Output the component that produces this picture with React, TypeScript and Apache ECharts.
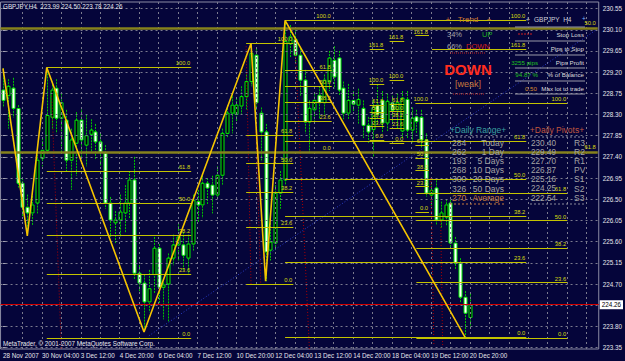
import React, { useEffect, useRef } from "react";
import * as echarts from "echarts";

// ---------- data ----------
const symbolName = "GBPJPY,H4";
const tickLabels = [
  "28 Nov 2007", "30 Nov 04:00", "3 Dec 12:00", "4 Dec 20:00", "6 Dec 04:00",
  "7 Dec 12:00", "10 Dec 20:00", "12 Dec 04:00", "13 Dec 12:00", "14 Dec 20:00",
  "18 Dec 04:00", "19 Dec 12:00", "20 Dec 20:00",
];
const labelStep = 8;

const opens = [
  228.82, 228.70, 228.86, 228.43, 226.84, 226.33, 226.21, 226.42, 227.37, 227.54,
  228.24, 228.86, 228.22, 228.18, 227.33, 227.69, 228.18, 227.65, 227.88, 227.93,
  227.72, 227.48, 226.42, 226.00, 226.06, 226.21, 226.42, 226.91, 224.93, 224.72,
  224.32, 224.90, 225.46, 224.63, 224.70, 225.25, 225.53, 225.53, 225.25, 225.55,
  226.45, 226.38, 226.84, 226.80, 226.59, 227.01, 227.90, 228.33, 228.30, 228.48,
  228.68, 229.00, 229.56, 228.33, 227.93, 225.42, 225.57, 226.63, 226.91, 229.80,
  229.90, 229.56, 229.03, 228.14, 228.40, 228.71, 228.55, 229.00, 229.45, 229.50,
  228.86, 228.33, 228.60, 228.50, 228.43, 228.07, 227.98, 228.50, 228.60, 228.12,
  228.55, 228.40, 227.95, 228.62, 227.97, 228.25, 228.24, 227.76, 226.59, 226.74,
  226.06, 226.12, 226.42, 225.57, 225.14, 224.42, 223.99,
];
const highs = [
  229.28, 229.05, 229.08, 228.50, 226.95, 226.60, 226.70, 227.45, 227.80, 229.30,
  229.00, 229.05, 228.75, 228.40, 228.00, 228.35, 228.45, 228.30, 228.20, 228.10,
  227.90, 227.65, 226.55, 226.25, 226.60, 226.80, 227.10, 227.40, 225.10, 224.90,
  225.00, 225.70, 225.55, 224.80, 225.35, 225.75, 226.00, 225.80, 225.75, 226.60,
  226.70, 227.00, 226.95, 227.00, 227.20, 228.00, 228.50, 228.75, 228.65, 228.90,
  229.15, 229.81, 229.70, 228.45, 228.10, 226.00, 226.80, 227.10, 230.30, 230.20,
  230.10, 229.70, 229.25, 228.60, 228.75, 228.90, 229.15, 229.65, 229.75, 229.65,
  229.00, 228.95, 228.80, 228.85, 228.60, 228.25, 228.60, 228.95, 228.80, 228.75,
  228.70, 228.75, 228.80, 228.80, 228.45, 228.40, 228.40, 227.90, 226.85, 226.90,
  226.45, 226.50, 226.55, 225.70, 225.25, 224.55, 224.50,
];
const lows = [
  228.45, 228.00, 228.24, 226.75, 226.10, 225.72, 225.95, 226.20, 227.20, 227.45,
  228.00, 227.90, 227.50, 227.10, 226.70, 227.00, 227.40, 227.20, 227.50, 227.35,
  227.20, 226.30, 225.70, 225.55, 225.70, 225.80, 226.10, 224.80, 224.50, 223.68,
  224.10, 224.50, 224.30, 223.95, 223.90, 225.10, 225.20, 225.00, 224.90, 225.40,
  226.00, 226.10, 226.40, 226.20, 226.50, 226.80, 227.80, 227.90, 228.10, 228.30,
  228.40, 228.90, 228.40, 227.30, 224.76, 225.20, 225.40, 226.30, 226.80, 229.50,
  229.40, 228.70, 227.90, 227.48, 228.10, 228.20, 228.30, 228.80, 228.85, 228.70,
  228.20, 228.20, 228.30, 228.10, 227.80, 227.70, 227.40, 228.10, 227.90, 227.95,
  228.10, 228.00, 227.80, 227.80, 227.70, 227.90, 227.60, 226.55, 226.30, 225.95,
  225.90, 225.95, 225.45, 225.00, 224.30, 223.57, 223.78,
];
const closes = [
  228.60, 228.90, 228.43, 226.84, 226.33, 226.21, 226.38, 227.33, 227.54, 228.28,
  228.82, 228.22, 228.55, 227.33, 227.76, 228.18, 227.76, 227.85, 227.97, 227.72,
  227.50, 226.42, 226.06, 226.06, 226.23, 226.42, 226.91, 224.93, 224.72, 224.32,
  224.60, 225.46, 224.63, 224.68, 225.25, 225.53, 225.70, 225.31, 225.55, 226.48,
  226.38, 226.84, 226.74, 226.59, 227.01, 227.90, 228.33, 228.50, 228.50, 228.68,
  229.00, 229.60, 228.55, 227.93, 225.38, 225.59, 226.63, 226.91, 229.85, 229.95,
  229.56, 229.03, 228.14, 228.43, 228.60, 228.55, 229.03, 229.50, 229.10, 228.82,
  228.33, 228.60, 228.52, 228.62, 228.07, 227.93, 228.45, 228.30, 228.12, 228.58,
  228.39, 228.55, 228.65, 227.97, 228.22, 228.15, 227.76, 226.63, 226.69, 226.06,
  226.21, 226.38, 225.57, 225.14, 224.42, 224.08, 224.26,
];

const zigzagBars = [0, 5, 9, 29, 51, 54, 58, 95];
const zigzagPrices = [229.28, 225.72, 229.30, 223.68, 229.81, 224.76, 230.30, 223.57];

const priceTicks = [
  223.35, 223.8, 224.25, 224.7, 225.15, 225.6, 226.05, 226.5, 226.95,
  227.4, 227.85, 228.3, 228.75, 229.2, 229.65, 230.1, 230.55,
];
const priceLabels = [
  223.35, 223.8, 224.7, 225.15, 225.6, 226.05, 226.5, 226.95,
  227.4, 227.85, 228.3, 228.75, 229.2, 229.65, 230.1, 230.55,
];
const bidPrice = 224.26;

const fibRatios = [0, 23.6, 38.2, 50, 61.8, 100];
const fibRatiosExt = [0, 23.6, 38.2, 50, 61.8, 100, 161.8];
// [start bar, end bar, price at 100, price at 0, extended]
const fibLegs: [number, number, number, number, boolean][] = [
  [9, 38.7, 229.3, 223.55, false],
  [50, 59.7, 229.81, 224.7, false],
  [58, 107.6, 230.3, 223.57, false],
  [58, 67.6, 230.3, 227.5, false],
  [75.4, 78.4, 228.95, 227.76, true],
  [79.5, 82.5, 229.03, 227.69, true],
  [84.8, 87.6, 228.54, 226.22, true],
  [85, 116.0, 228.54, 223.55, false],
];
// thick levels across the chart: [price, label]
const wideLevels: [number, string][] = [
  [230.14, "50.0"],
  [227.5, "61.8"],
];
const extraLevels: [number, number, number, string][] = [[88.2, 107.6, 229.69, "161.8"]];
// red dotted trend lines: [bar1, price1, bar2, price2]
const redLines: [number, number, number, number][] = [
  [10, 228.7, 12, 223.32],
  [50, 229.75, 51, 224.7],
  [52, 228.0, 53, 224.7],
  [60, 229.9, 63, 223.32],
  [88, 226.95, 88.6, 223.4],
  [90, 226.1, 90.4, 223.4],
];
const blueLines: [number, number, number, number][] = [[30, 223.6, 122, 230.1]];

const rangeValues = ["284", "262", "193", "268", "300", "326", "270"];
const rangeNames = ["Today", "1 Day", "5 Days", "10 Days", "20 Days", "50 Days", "Average"];
const pivotValues = ["230.40", "229.49", "227.70", "226.87", "225.16", "224.25", "222.54"];
const pivotNames = ["R3", "R2", "R1", "PV", "S1", "S2", "S3"];
const trendUp = "34%";
const trendDown = "66%";

// ---------- styles ----------
const BG = "#05053a";
const F = "'Liberation Sans', Arial, sans-serif";
const AXIS_TXT = "#e6e6ec";
const GRID_C = "#7a7a8e";
const FIB_C = "#c4c400";
const OLIVE = "#86821c";

export default function App() {
  const ref = useRef<HTMLDivElement>(null);

  useEffect(() => {
    document.body.style.margin = "0";
    document.body.style.background = BG;
    const chart = echarts.init(ref.current!, undefined, { renderer: "svg" });

    const candleData = opens.map((o, i) => [i, o, highs[i], lows[i], closes[i]]);
    const labelBars = tickLabels.map((_, k) => k * labelStep);
    const gridBars: number[] = [];
    for (let b = 4; b <= 120; b += 4) gridBars.push(b);

    const fibSegs: any[] = [];
    fibLegs.forEach(([b1, b2, p100, p0, ext]) => {
      (ext ? fibRatiosExt : fibRatios).forEach((r) => {
        const p = p0 + ((p100 - p0) * r) / 100;
        fibSegs.push([{ coord: [b1, p], name: r.toFixed(1) }, { coord: [b2, p] }]);
      });
    });
    extraLevels.forEach(([b1, b2, p, name]) =>
      fibSegs.push([{ coord: [b1, p], name }, { coord: [b2, p] }])
    );

    const dummy = (z: number, markLine: any) => ({
      type: "line",
      data: [[-0.5, 223.32]],
      symbol: "none",
      lineStyle: { opacity: 0 },
      silent: true,
      z,
      markLine: { silent: true, symbol: ["none", "none"], animation: false, ...markLine },
    });

    const txt = (x: number, y: number, text: string, fill: string, font: string, align = "left") => ({
      type: "text",
      x,
      y,
      z: 100,
      silent: true,
      style: { text, fill, font, textAlign: align, textVerticalAlign: "middle", align, verticalAlign: "middle" },
    });
    const ln = (x1: number, y1: number, x2: number, y2: number, stroke: string, dash?: number[]) => ({
      type: "line",
      z: 99,
      silent: true,
      shape: { x1, y1, x2, y2 },
      style: { stroke, lineWidth: 1, lineDash: dash },
    });

    const f62 = `6.2px ${F}`;
    const f75 = `7.5px ${F}`;
    const f85 = `8.5px ${F}`;
    const rowY = [143.3, 152.3, 161.3, 170.3, 179.3, 188.6, 198];
    const graphics: any[] = [
      txt(3, 6, `${symbolName}  ${opens[96].toFixed(2)} ${highs[96].toFixed(2)} ${lows[96].toFixed(2)} ${closes[96].toFixed(2)}`, AXIS_TXT, `6.3px ${F}`),
      txt(3, 343, "MetaTrader, © 2001-2007 MetaQuotes Software Corp.", AXIS_TXT, `6.3px ${F}`),
      // trend box
      txt(448, 19, "+", "#d07a30", f75, "center"),
      txt(468, 19, "Trend", "#d07a30", `8px ${F}`, "center"),
      txt(489, 19, "+", "#d07a30", f75, "center"),
      txt(447, 34, trendUp, "#a8a8a8", f75),
      txt(482, 34, "UP", "#20b020", f75),
      txt(447, 46, trendDown, "#a8a8a8", f75),
      txt(466, 46, "DOWN", "#d02020", f75),
      ln(450, 53, 486, 53, "#c02020", [1, 1]),
      txt(468, 69.5, "DOWN", "#ff2d1e", `bold 15px 'Liberation Sans Narrow', ${F}`, "center"),
      txt(468, 84, "[weak]", "#c87a3c", `9px ${F}`, "center"),
      ln(453, 94, 485, 94, "#c02020", [1, 1]),
      // symbol box
      txt(528, 19, "+", "#c8c8c8", f75, "center"),
      txt(534, 19, "GBPJPY  H4", "#d0d0d8", `6.5px ${F}`),
      txt(584, 18, "+", "#80b8ff", `6.5px ${F}`, "center"),
      ln(515, 27, 585, 27, "#9a9aa8"),
      ln(518, 34, 533, 34, "#d02020", [2, 1]),
      txt(584, 34.5, "Stop Loss", "#dcdcdc", f62, "right"),
      ln(515, 41, 585, 41, "#9a9aa8"),
      txt(584, 48, "Pips to Stop", "#dcdcdc", f62, "right"),
      ln(515, 55, 585, 55, "#9a9aa8"),
      txt(538, 62, "3255 pips", "#20c020", f62, "right"),
      txt(584, 62, "Pips Profit", "#dcdcdc", f62, "right"),
      ln(515, 68, 585, 68, "#9a9aa8"),
      txt(538, 74.5, "94.87 %", "#20c020", f62, "right"),
      txt(584, 74.5, "% of Balance", "#dcdcdc", f62, "right"),
      ln(515, 81, 585, 81, "#9a9aa8"),
      txt(537, 88, "0.50", "#d88a30", f62, "right"),
      txt(584, 88, "Max lot to trade", "#dcdcdc", f62, "right"),
      ln(515, 94, 585, 94, "#9a9aa8"),
      // daily range / pivots
      txt(478, 130, "+Daily Range+", "#3aa0a0", f85, "center"),
      txt(557, 130, "+Daily Pivots+", "#c0583e", f85, "center"),
      ln(448, 137, 506, 137, "#8a8a9a", [2, 2]),
      ln(530, 137, 585, 137, "#8a8a9a", [2, 2]),
      ln(450, 204, 506, 204, "#c87a3c", [2, 2]),
      ln(530, 204, 585, 204, "#8a8a9a", [2, 2]),
    ];
    rangeValues.forEach((v, k) => {
      const c = k === rangeValues.length - 1 ? "#c87a3c" : "#a4a4a4";
      graphics.push(txt(452, rowY[k], v, c, f85));
      graphics.push(txt(504, rowY[k], rangeNames[k], c, f85, "right"));
    });
    pivotValues.forEach((v, k) => {
      graphics.push(txt(531, rowY[k], v, "#a4a4a4", `8.2px ${F}`));
      graphics.push(txt(574, rowY[k], pivotNames[k], "#a4a4a4", f85));
    });

    const option: any = {
      animation: false,
      backgroundColor: BG,
      grid: { left: 0, right: 22, top: 2, bottom: 12, show: true, borderColor: "#8c8ca4", borderWidth: 1, backgroundColor: BG },
      xAxis: {
        type: "value",
        min: -0.5,
        max: 122.5,
        axisLine: { show: false },
        axisTick: { show: false },
        splitLine: { show: false },
        axisLabel: {
          customValues: labelBars,
          formatter: (v: number) => tickLabels[Math.round(v / labelStep)] ?? "",
          color: AXIS_TXT,
          fontSize: 6.3,
          fontFamily: F,
          align: "left",
          margin: 3,
        },
      },
      yAxis: {
        type: "value",
        position: "right",
        min: 223.32,
        max: 230.69,
        axisLine: { show: false },
        axisTick: { show: true, customValues: priceLabels, length: 3, lineStyle: { color: "#a0a0b4" } },
        splitLine: { show: false },
        axisLabel: {
          customValues: priceLabels,
          formatter: (v: number) => v.toFixed(2),
          color: AXIS_TXT,
          fontSize: 6.3,
          fontFamily: F,
          margin: 4,
        },
      },
      graphic: graphics,
      series: [
        dummy(1, {
          lineStyle: { color: GRID_C, type: [2, 3], width: 1 },
          label: { show: false },
          data: [...priceTicks.map((p) => ({ yAxis: p })), ...gridBars.map((b) => ({ xAxis: b }))],
        }),
        dummy(2, {
          lineStyle: { color: "#b00000", type: [1, 2], width: 1 },
          label: { show: false },
          data: redLines.map(([b1, p1, b2, p2]) => [{ coord: [b1, p1] }, { coord: [b2, p2] }]),
        }),
        dummy(2, {
          lineStyle: { color: "#2a3cc8", type: [1, 2], width: 1 },
          label: { show: false },
          data: blueLines.map(([b1, p1, b2, p2]) => [{ coord: [b1, p1] }, { coord: [b2, p2] }]),
        }),
        {
          type: "custom",
          z: 3,
          silent: true,
          data: candleData,
          encode: { x: 0, y: [1, 2, 3, 4] },
          renderItem: (params: any, api: any) => {
            const i = api.value(0);
            const o = api.value(1);
            const h = api.value(2);
            const l = api.value(3);
            const c = api.value(4);
            const pO = api.coord([i, o]);
            const pC = api.coord([i, c]);
            const pH = api.coord([i, h]);
            const pL = api.coord([i, l]);
            const x = Math.round(pO[0]) + 0.5;
            const top = Math.min(pO[1], pC[1]);
            const bot = Math.max(pO[1], pC[1]);
            const bear = c < o;
            return {
              type: "group",
              children: [
                { type: "line", shape: { x1: x, y1: pH[1], x2: x, y2: pL[1] }, style: { stroke: "#00c400", lineWidth: 1, lineDash: [2, 1] } },
                {
                  type: "rect",
                  shape: { x: x - 1.5, y: top, width: 3, height: Math.max(bot - top, 1) },
                  style: { fill: bear ? "#ffffff" : "#000010", stroke: "#00ee00", lineWidth: 1 },
                },
              ],
            };
          },
        },
        dummy(4, {
          lineStyle: { color: FIB_C, type: "solid", width: 1 },
          label: { show: true, position: "insideEndTop", formatter: "{b}", color: "#dada10", fontSize: 5.8, fontFamily: F, distance: 1 },
          data: fibSegs,
        }),
        dummy(4, {
          lineStyle: { color: OLIVE, type: "solid", width: 2.5 },
          label: { show: true, position: "insideEndTop", formatter: "{b}", color: "#dada10", fontSize: 5.8, fontFamily: F, distance: 2 },
          data: wideLevels.map(([p, name]) => [{ coord: [-0.5, p], name }, { coord: [122.3, p] }]),
        }),
        {
          type: "line",
          z: 6,
          silent: true,
          data: zigzagBars.map((b, k) => [b, zigzagPrices[k]]),
          symbol: "none",
          lineStyle: { color: "#f5c400", width: 1.6 },
        },
        dummy(7, {
          lineStyle: { color: "#d40000", type: "solid", width: 1 },
          label: {
            show: true,
            position: "end",
            formatter: bidPrice.toFixed(2),
            color: "#000000",
            backgroundColor: "#ffffff",
            fontSize: 6.3,
            fontFamily: F,
            padding: [2, 2, 1, 2],
            distance: 1,
          },
          data: [{ yAxis: bidPrice }],
        }),
      ],
    };
    chart.setOption(option);
    return () => chart.dispose();
  }, []);

  return (
    <div
      ref={ref}
      style={{ position: "fixed", left: 0, top: 0, width: 625, height: 361, background: BG }}
    />
  );
}
